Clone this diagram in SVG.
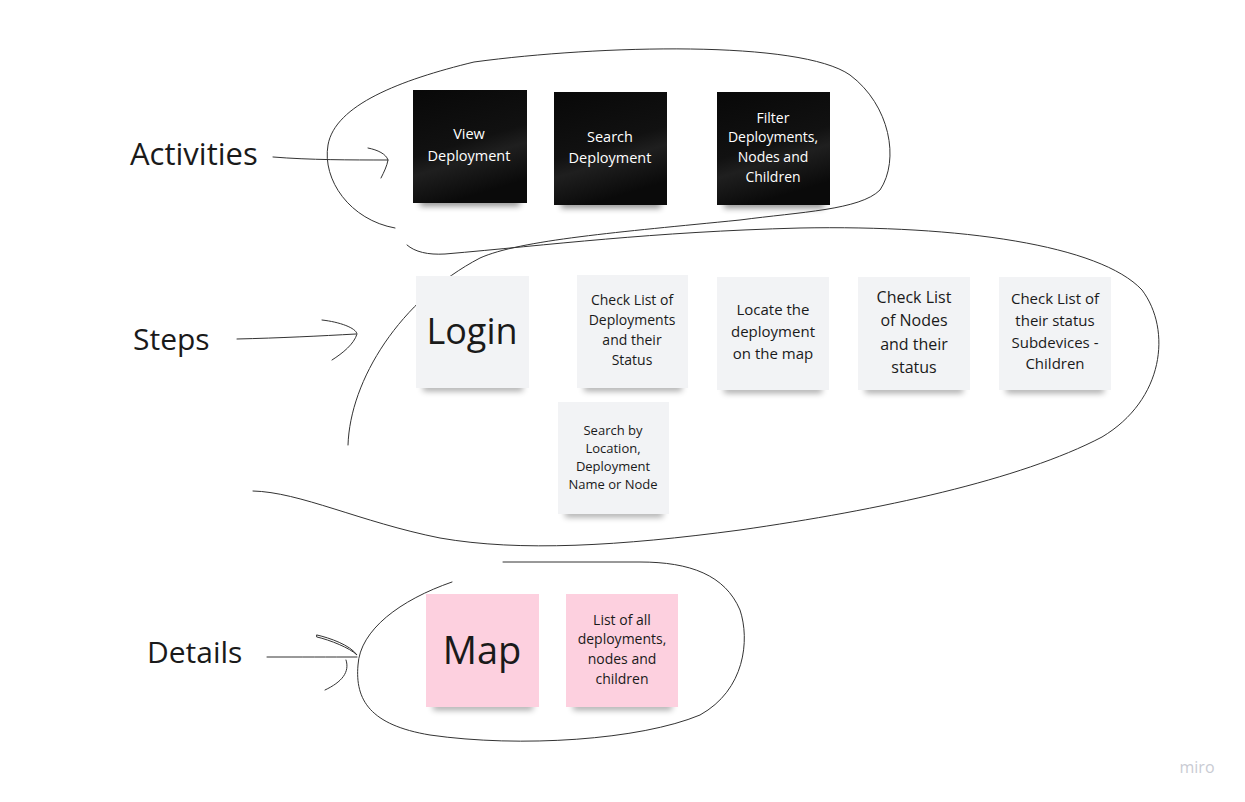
<svg xmlns="http://www.w3.org/2000/svg" width="1245" height="802" viewBox="0 0 1245 802">
<defs>
<style>
.lbl{font-family:"Open Sans","Noto Sans",sans-serif;fill:#1a1a1a}
.t{font-family:"Open Sans","Noto Sans",sans-serif;text-anchor:middle}
.w{fill:#ffffff}
.d{fill:#1a1a1a}
.ink{fill:none;stroke:#333;stroke-width:1;stroke-linecap:round}
.grey{fill:#f2f3f5}
.pink{fill:#fdd0df}
</style>
<linearGradient id="blk" x1="0" y1="0" x2="0.3" y2="1">
<stop offset="0" stop-color="#080808"/>
<stop offset="0.55" stop-color="#111111"/>
<stop offset="0.7" stop-color="#1f1f1f"/>
<stop offset="1" stop-color="#0a0a0a"/>
</linearGradient>
<filter id="sh" x="-20%" y="-200%" width="140%" height="500%">
<feGaussianBlur stdDeviation="3"/>
</filter>
</defs>

<g id="labels">
<text class="lbl" x="130" y="165" font-size="31">Activities</text>
<text class="lbl" x="133" y="350" font-size="30">Steps</text>
<text class="lbl" x="147" y="663" font-size="30">Details</text>
</g>

<g id="connectors">
<path class="ink" d="M273,157 C 310,160 350,160 388,160"/>
<path class="ink" d="M368,148 C 378,150 386,154 388,160 C 387,166 384,172 381,178"/>
<path class="ink" d="M237,339 C 280,338 320,336 356,334"/>
<path class="ink" d="M322,320 C 340,322 356,328 357,334 C 354,344 343,353 332,360"/>
<path class="ink" d="M267,657 C 300,657 330,657 357,657"/>
<path class="ink" d="M317,635 C 330,638 350,645 357,655 C 350,648 330,640 317,637 Z"/>
<path class="ink" d="M325,690 C 342,682 350,672 346,660"/>
<path class="ink" d="M395,228 C 350,220 322,180 328,145 C 335,105 400,80 474,62 C 600,45 800,40 850,75 C 890,105 900,160 880,190 C 860,210 800,212 740,220 C 620,232 520,240 480,258 C 400,300 350,380 348,445"/>
<path class="ink" d="M407,245 C 415,252 428,255 445,254 C 550,245 650,232 800,228 C 960,225 1100,245 1142,290 C 1172,330 1164,400 1102,437 C 1020,480 880,510 740,530 C 620,546 520,552 440,538 C 360,522 300,492 253,491"/>
<path class="ink" d="M452,582 C 400,600 360,630 358,665 C 355,700 370,725 430,735 C 520,748 640,740 700,715 C 745,690 750,640 740,610 C 725,575 690,562 640,562 L 503,562"/>
</g>

<g id="n-view">
<rect x="420" y="198" width="100" height="8" fill="#000" opacity="0.45" filter="url(#sh)"/>
<rect x="413" y="90" width="114" height="113" fill="url(#blk)"/>
<text class="t w" font-size="14.5"><tspan x="469" y="139">View</tspan><tspan x="469" y="161">Deployment</tspan></text>
</g>
<g id="n-search">
<rect x="561" y="200" width="100" height="8" fill="#000" opacity="0.45" filter="url(#sh)"/>
<rect x="554" y="92" width="113" height="113" fill="url(#blk)"/>
<text class="t w" font-size="14.5"><tspan x="610" y="142">Search</tspan><tspan x="610" y="163">Deployment</tspan></text>
</g>
<g id="n-filter">
<rect x="724" y="200" width="100" height="8" fill="#000" opacity="0.45" filter="url(#sh)"/>
<rect x="717" y="92" width="113" height="113" fill="url(#blk)"/>
<text class="t w" font-size="14"><tspan x="773" y="123">Filter</tspan><tspan x="773" y="142">Deployments,</tspan><tspan x="773" y="162">Nodes and</tspan><tspan x="773" y="182">Children</tspan></text>
</g>

<g id="n-login">
<rect x="423" y="384" width="100" height="7" fill="#000" opacity="0.35" filter="url(#sh)"/>
<rect x="416" y="276" width="113" height="112" class="grey"/>
<text class="t d" x="472" y="344" font-size="36">Login</text>
</g>
<g id="n-checkdep">
<rect x="584" y="384" width="98" height="7" fill="#000" opacity="0.35" filter="url(#sh)"/>
<rect x="577" y="275" width="111" height="113" class="grey"/>
<text class="t d" font-size="14"><tspan x="632" y="305">Check List of</tspan><tspan x="632" y="325">Deployments</tspan><tspan x="632" y="345">and their</tspan><tspan x="632" y="365">Status</tspan></text>
</g>
<g id="n-locate">
<rect x="724" y="386" width="98" height="7" fill="#000" opacity="0.35" filter="url(#sh)"/>
<rect x="717" y="277" width="112" height="113" class="grey"/>
<text class="t d" font-size="15"><tspan x="773" y="315">Locate the</tspan><tspan x="773" y="337">deployment</tspan><tspan x="773" y="359">on the map</tspan></text>
</g>
<g id="n-checknodes">
<rect x="865" y="386" width="98" height="7" fill="#000" opacity="0.35" filter="url(#sh)"/>
<rect x="858" y="277" width="112" height="113" class="grey"/>
<text class="t d" font-size="16"><tspan x="914" y="303">Check List</tspan><tspan x="914" y="326">of Nodes</tspan><tspan x="914" y="350">and their</tspan><tspan x="914" y="373">status</tspan></text>
</g>
<g id="n-checksub">
<rect x="1006" y="386" width="98" height="7" fill="#000" opacity="0.35" filter="url(#sh)"/>
<rect x="999" y="277" width="112" height="113" class="grey"/>
<text class="t d" font-size="15"><tspan x="1055" y="304">Check List of</tspan><tspan x="1055" y="326">their status</tspan><tspan x="1055" y="348">Subdevices -</tspan><tspan x="1055" y="369">Children</tspan></text>
</g>
<g id="n-searchby">
<rect x="565" y="510" width="98" height="7" fill="#000" opacity="0.35" filter="url(#sh)"/>
<rect x="558" y="402" width="111" height="112" class="grey"/>
<text class="t d" font-size="13"><tspan x="613" y="435">Search by</tspan><tspan x="613" y="453">Location,</tspan><tspan x="613" y="471">Deployment</tspan><tspan x="613" y="489">Name or Node</tspan></text>
</g>

<g id="n-map">
<rect x="433" y="703" width="100" height="7" fill="#000" opacity="0.35" filter="url(#sh)"/>
<rect x="426" y="594" width="113" height="113" class="pink"/>
<text class="t d" x="482" y="664" font-size="38">Map</text>
</g>
<g id="n-list">
<rect x="573" y="703" width="99" height="7" fill="#000" opacity="0.35" filter="url(#sh)"/>
<rect x="566" y="594" width="112" height="113" class="pink"/>
<text class="t d" font-size="14"><tspan x="622" y="625">List of all</tspan><tspan x="622" y="644">deployments,</tspan><tspan x="622" y="664">nodes and</tspan><tspan x="622" y="684">children</tspan></text>
</g>

<text x="1197" y="773" font-family="'Open Sans','Noto Sans',sans-serif" font-size="16" fill="#c9cbd3" text-anchor="middle">miro</text>
</svg>
